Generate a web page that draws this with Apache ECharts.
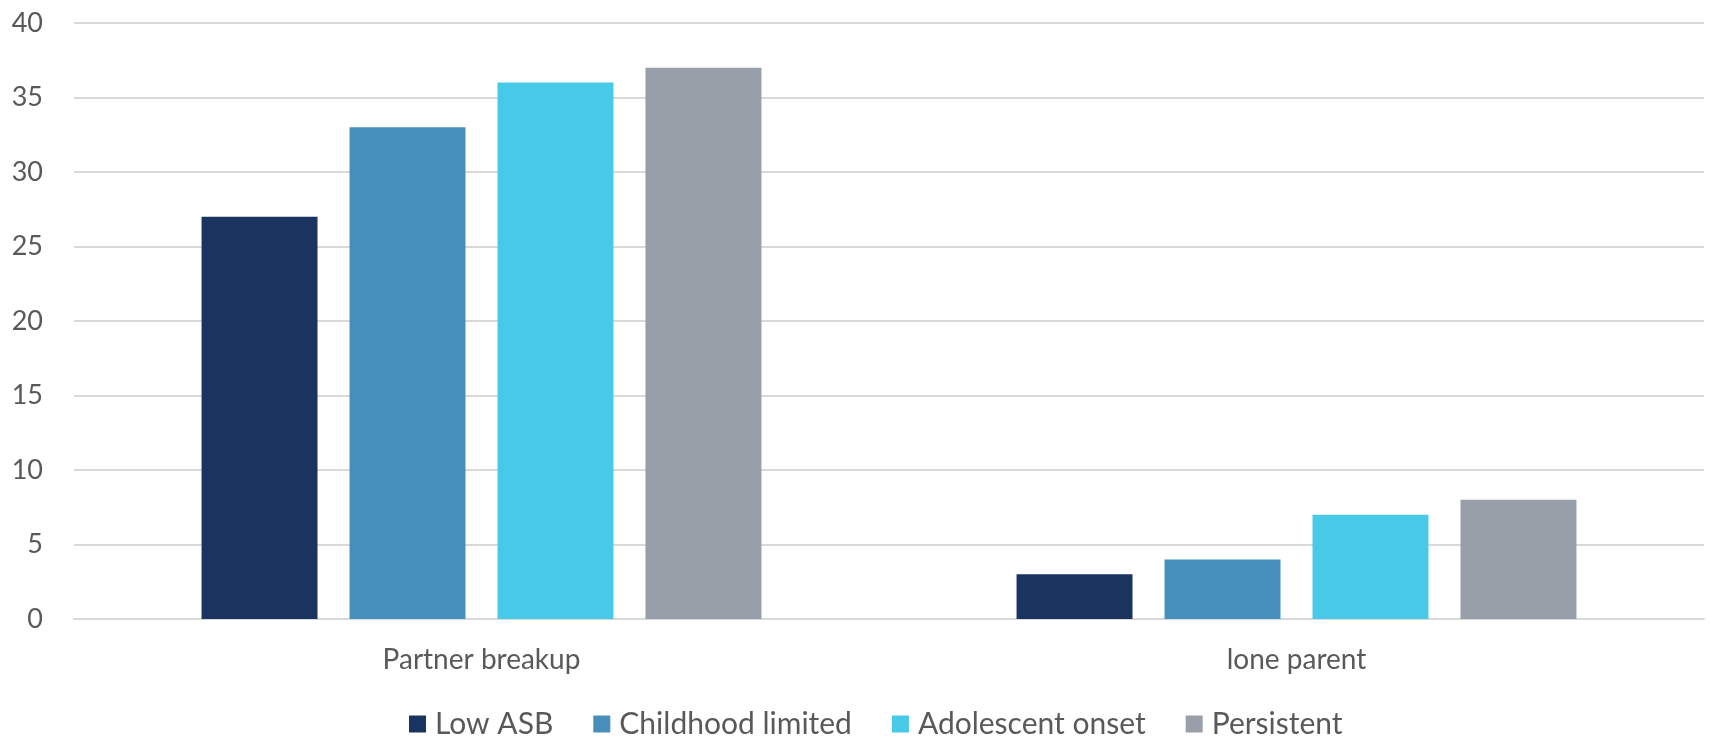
<!DOCTYPE html>
<html>
<head>
<meta charset="utf-8">
<title>Partner breakup and lone parenthood by ASB trajectory</title>
<script src="https://cdn.jsdelivr.net/npm/echarts@6/dist/echarts.min.js"></script>
<style>
  html, body { margin: 0; padding: 0; background: #ffffff; }
  #chart { width: 1710px; height: 737px; }
</style>
</head>
<body>
<div id="chart"></div>
<script>
// Outcome categories along the x axis
const categories = ['Partner breakup', 'lone parent'];

// Trajectory groups (one bar series each)
const seriesNames = ['Low ASB', 'Childhood limited', 'Adolescent onset', 'Persistent'];
const lowASB = [27, 3];
const childhoodLimited = [33, 4];
const adolescentOnset = [36, 7];
const persistent = [37, 8];

// Value axis ticks
const yTicks = [0, 5, 10, 15, 20, 25, 30, 35, 40];

const colors = ['#1b335f', '#468fba', '#47cae8', '#989fa8'];
const valueSets = [lowASB, childhoodLimited, adolescentOnset, persistent];
const fontFamily = 'Lato, "Open Sans", sans-serif';
const textColor = '#595959';

const chart = echarts.init(document.getElementById('chart'), null, { renderer: 'canvas' });

chart.setOption({
  animation: false,
  backgroundColor: '#ffffff',
  color: colors,
  grid: { left: 74, right: 6, top: 23, bottom: 118, containLabel: false },
  legend: {
    data: seriesNames,
    top: 704,
    left: 404,
    itemWidth: 17,
    itemHeight: 17,
    itemGap: 40,
    icon: 'rect',
    textStyle: { fontFamily: fontFamily, fontSize: 30, color: textColor, lineHeight: 30, padding: [0, 0, 0, 4] }
  },
  xAxis: {
    type: 'category',
    data: categories,
    axisLine: { show: true, lineStyle: { color: '#d9d9d9', width: 2 } },
    axisTick: { show: false },
    axisLabel: { margin: 27, fontFamily: fontFamily, fontSize: 28, color: textColor }
  },
  yAxis: {
    type: 'value',
    min: yTicks[0],
    max: yTicks[yTicks.length - 1],
    interval: yTicks[1] - yTicks[0],
    axisLine: { show: false },
    axisTick: { show: false },
    splitLine: { lineStyle: { color: '#d9d9d9', width: 2 } },
    axisLabel: { margin: 31, fontFamily: fontFamily, fontSize: 27, color: textColor }
  },
  series: seriesNames.map((name, i) => ({
    name: name,
    type: 'bar',
    data: valueSets[i],
    barGap: '27.6%',
    barCategoryGap: '31.3%',
    itemStyle: { color: colors[i] }
  }))
});
</script>
</body>
</html>
